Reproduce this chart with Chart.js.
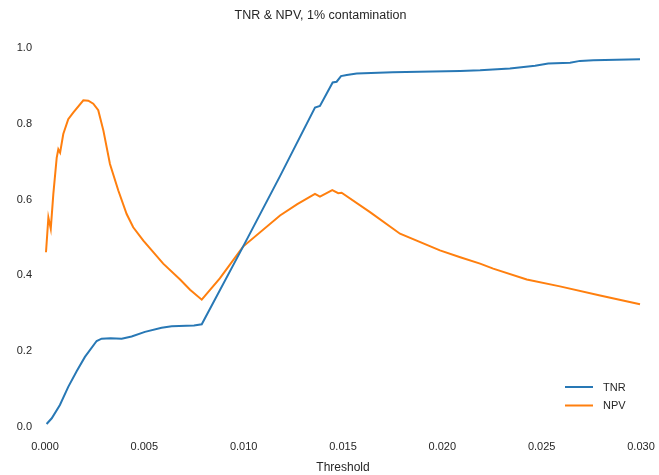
<!DOCTYPE html>
<html>
<head>
<meta charset="utf-8">
<script src="https://cdn.jsdelivr.net/npm/chart.js@4.4.1/dist/chart.umd.min.js"></script>
<style>
  html, body { margin: 0; padding: 0; background: #ffffff; }
  #wrap { width: 659px; height: 475px; position: relative; }
</style>
</head>
<body>
<div id="wrap"><canvas id="chart" width="659" height="475"></canvas></div>
<script>
// True negative rate against the decision threshold
const tnrThreshold = [0.00008, 0.00034, 0.00075, 0.00117, 0.0016, 0.00201, 0.0026, 0.00285, 0.0033, 0.00386,
  0.00436, 0.00503, 0.00587, 0.00638, 0.0075, 0.00789, 0.00997, 0.01183, 0.01359, 0.01384,
  0.01448, 0.01468, 0.0149, 0.01519, 0.01569, 0.0175, 0.0195, 0.0209, 0.0219, 0.0234,
  0.02467, 0.02533, 0.02643, 0.02693, 0.0276, 0.02995];
const tnrValues = [0.008, 0.023, 0.058, 0.106, 0.148, 0.185, 0.227, 0.233, 0.234, 0.233,
  0.239, 0.251, 0.262, 0.266, 0.268, 0.271, 0.476, 0.662, 0.843, 0.847,
  0.909, 0.911, 0.926, 0.929, 0.933, 0.936, 0.938, 0.9395, 0.941, 0.946,
  0.953, 0.959, 0.961, 0.966, 0.968, 0.970];

// Negative predictive value against the decision threshold
const npvThreshold = [0.00005, 0.00017, 0.00029, 0.00042, 0.00059, 0.00067, 0.00076, 0.00092, 0.00117, 0.00143,
  0.00193, 0.00218, 0.00243, 0.00268, 0.00294, 0.00327, 0.00369, 0.00411, 0.00444, 0.00495,
  0.00595, 0.0068, 0.0073, 0.00789, 0.0088, 0.00997, 0.01183, 0.0127, 0.01359, 0.01384,
  0.01446, 0.01476, 0.01493, 0.01636, 0.01787, 0.01988, 0.0209, 0.0219, 0.02256, 0.02425,
  0.02592, 0.02794, 0.02995];
const npvValues = [0.461, 0.553, 0.523, 0.615, 0.711, 0.733, 0.724, 0.773, 0.812, 0.830,
  0.862, 0.861, 0.853, 0.836, 0.782, 0.694, 0.624, 0.562, 0.527, 0.492,
  0.431, 0.389, 0.362, 0.336, 0.392, 0.476, 0.558, 0.588, 0.615, 0.608,
  0.625, 0.617, 0.618, 0.567, 0.510, 0.466, 0.448, 0.431, 0.418, 0.389,
  0.371, 0.347, 0.324];

const xTicks = [0.000, 0.005, 0.010, 0.015, 0.020, 0.025, 0.030];
const yTicks = [0.0, 0.2, 0.4, 0.6, 0.8, 1.0];

const seriesNames = ['TNR', 'NPV'];
const seriesColors = ['#2878b5', '#ff7f0e'];

const FONT = '"Liberation Sans", Arial, sans-serif';
const TEXT = '#262626';

function points(xs, ys) {
  return xs.map((x, i) => ({ x: x, y: ys[i] }));
}

// Legend drawn in the lower right corner of the plotting area
const cornerLegend = {
  id: 'cornerLegend',
  afterDraw(chart) {
    const ctx = chart.ctx;
    const area = chart.chartArea;
    const x0 = area.right - 76;
    const y0 = area.bottom - 40;
    ctx.save();
    chart.data.datasets.forEach((ds, i) => {
      const y = y0 + i * 18.5;
      ctx.strokeStyle = ds.borderColor;
      ctx.lineWidth = 2;
      ctx.beginPath();
      ctx.moveTo(x0, y);
      ctx.lineTo(x0 + 28, y);
      ctx.stroke();
      ctx.fillStyle = TEXT;
      ctx.font = '11px ' + FONT;
      ctx.textBaseline = 'middle';
      ctx.textAlign = 'left';
      ctx.fillText(ds.label, x0 + 38, y + 0.5);
    });
    ctx.restore();
  }
};

new Chart(document.getElementById('chart'), {
  type: 'line',
  data: {
    datasets: [
      { label: seriesNames[0], data: points(tnrThreshold, tnrValues), borderColor: seriesColors[0] },
      { label: seriesNames[1], data: points(npvThreshold, npvValues), borderColor: seriesColors[1] }
    ]
  },
  options: {
    responsive: false,
    animation: false,
    devicePixelRatio: 1,
    parsing: false,
    elements: {
      line: { borderWidth: 2, tension: 0, fill: false },
      point: { radius: 0, hoverRadius: 0 }
    },
    layout: { padding: { left: 0, right: 18, top: 0, bottom: 0 } },
    plugins: {
      legend: { display: false },
      tooltip: { enabled: false },
      title: {
        display: true,
        text: 'TNR & NPV, 1% contamination',
        color: TEXT,
        font: { family: FONT, size: 12.5, weight: 'normal' },
        padding: { top: 8, bottom: 25 }
      }
    },
    scales: {
      x: {
        type: 'linear',
        min: 0,
        max: 0.03,
        grid: { display: false, drawTicks: false },
        border: { display: false },
        afterBuildTicks(scale) { scale.ticks = xTicks.map(v => ({ value: v })); },
        afterFit(scale) {
          scale.height = 48;
          scale.paddingLeft = 0;
          scale.paddingRight = 0;
        },
        ticks: {
          color: TEXT,
          font: { family: FONT, size: 11 },
          padding: 13,
          maxRotation: 0,
          callback: v => Number(v).toFixed(3)
        },
        title: {
          display: true,
          text: 'Threshold',
          color: TEXT,
          font: { family: FONT, size: 12 },
          padding: { top: 2, bottom: 0 }
        }
      },
      y: {
        type: 'linear',
        min: 0,
        max: 1,
        grid: { display: false, drawTicks: false },
        border: { display: false },
        afterBuildTicks(scale) { scale.ticks = yTicks.map(v => ({ value: v })); },
        afterFit(scale) { scale.width = 45; },
        ticks: {
          color: TEXT,
          font: { family: FONT, size: 11 },
          padding: 13,
          callback: v => Number(v).toFixed(1)
        }
      }
    }
  },
  plugins: [cornerLegend]
});
</script>
</body>
</html>
